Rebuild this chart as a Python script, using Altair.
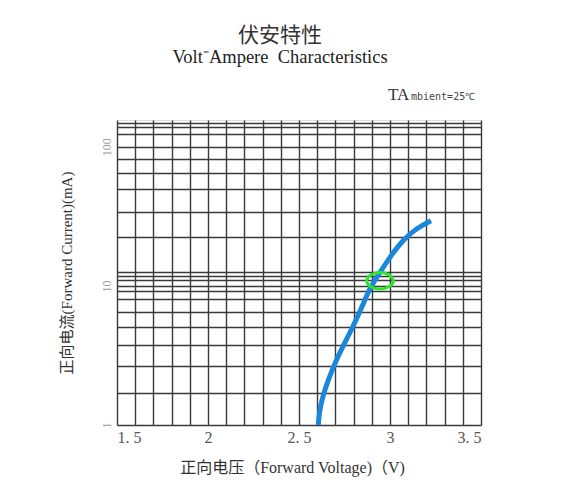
import altair as alt
import pandas as pd

# Forward voltage (V) and forward current (mA)
voltage = [2.606, 2.612, 2.630, 2.660, 2.703, 2.747, 2.797, 2.846, 2.890, 2.929, 3.000, 3.071, 3.148, 3.225]
current = [1.0, 1.25, 1.60, 2.10, 2.90, 3.80, 5.10, 7.06, 9.68, 11.6, 16.2, 21.4, 26.1, 29.4]

# highlighted operating point (green hand-drawn mark)
mark_v = [2.945]
mark_i = [10.9]

x_ticks = [1.5, 1.6, 1.7, 1.8, 1.9, 2.0, 2.1, 2.2, 2.3, 2.4, 2.5, 2.6, 2.7, 2.8, 2.9,
           3.0, 3.1, 3.2, 3.3, 3.4, 3.5]
x_labels = [1.5, 2.0, 2.5, 3.0, 3.5]
# grid lines of the (hand-ruled) log paper in the reference
y_ticks = [1, 1.7, 2.66, 3.73, 5.07, 6.5, 8.06, 9.2, 10, 11.05, 11.8, 12.6,
           22.5, 34.1, 49.9, 65, 82, 100, 124, 139, 149]
y_labels = [1, 10, 100]

curve = pd.DataFrame({"v": voltage, "i": current})
hl = pd.DataFrame({"v": mark_v, "i": mark_i})

x_scale = alt.Scale(domain=[1.5, 3.5], nice=False, zero=False)
y_scale = alt.Scale(type="log", domain=[1, 156], nice=False)

x_label_expr = (
    "indexof(%s, round(datum.value*10)) >= 0 ? "
    "(abs(datum.value - round(datum.value)) < 0.001 ? format(datum.value, 'd') : "
    "replace(format(datum.value, '.1f'), '.', '. ')) : ''"
) % str([int(round(v * 10)) for v in x_labels])

y_label_expr = "indexof(%s, datum.value) >= 0 ? format(datum.value, 'd') : ''" % str(y_labels)

x_axis = alt.Axis(
    values=x_ticks,
    tickCount=200,
    title="正向电压（Forward Voltage)（V)",
    titleFont="Liberation Serif, Noto Sans CJK SC",
    titleFontSize=16,
    titleFontWeight="normal",
    titleColor="#333333",
    titleX=175,
    titleY=34,
    titleAlign="center",
    labelExpr=x_label_expr,
    labelOverlap=False,
    labelFont="Liberation Serif",
    labelFontSize=16,
    labelColor="#555555",
    labelPadding=4,
    ticks=False,
    domain=False,
    grid=True,
    gridColor="#3a3a3a",
    gridWidth=1.4,
    gridOpacity=1,
)

y_axis = alt.Axis(
    values=y_ticks,
    tickCount=200,
    title="正向电流(Forward  Current)(mA)",
    titleFont="Liberation Serif, Noto Sans CJK SC",
    titleFontSize=15,
    titleFontWeight="normal",
    titleColor="#333333",
    titlePadding=26,
    labelExpr=y_label_expr,
    labelOverlap=False,
    labelFont="Liberation Serif",
    labelFontSize=12,
    labelColor="#9a9a9a",
    labelAngle=270,
    labelAlign="center",
    labelBaseline="bottom",
    labelPadding=4,
    ticks=False,
    domain=False,
    grid=True,
    gridColor="#3a3a3a",
    gridWidth=1.4,
    gridOpacity=1,
)

line = alt.Chart(curve).mark_line(
    color="#1a87dc", strokeWidth=5, interpolate="basis", strokeCap="butt"
).encode(
    x=alt.X("v:Q", scale=x_scale, axis=x_axis),
    y=alt.Y("i:Q", scale=y_scale, axis=y_axis),
)

ellipse = alt.Chart(hl).mark_point(
    shape="M -1 0 A 1 0.62 0 1 0 1 0 A 1 0.62 0 1 0 -1 0 Z",
    filled=False, stroke="#2ee62e", strokeWidth=3, size=700, opacity=1,
).encode(
    x=alt.X("v:Q", scale=x_scale, axis=x_axis),
    y=alt.Y("i:Q", scale=y_scale, axis=y_axis),
)

ta = alt.Chart(pd.DataFrame({"t": ["TA"]})).mark_text(
    font="Liberation Serif", fontSize=17, color="#333333", align="left", baseline="alphabetic"
).encode(x=alt.value(271), y=alt.value(-20), text="t:N")

amb = alt.Chart(pd.DataFrame({"t": ["mbient=25℃"]})).mark_text(
    font="DejaVu Sans Mono", fontSize=10, color="#444444", align="left", baseline="alphabetic"
).encode(x=alt.value(294), y=alt.value(-20), text="t:N")

chart = alt.layer(line, ellipse, ta, amb).properties(
    width=364,
    height=305,
    autosize=alt.AutoSizeParams(type="none"),
    padding={"left": 109, "top": 112, "right": 91, "bottom": 70},
    title=alt.TitleParams(
        text="伏安特性",
        subtitle="Volt⁻Ampere\u00a0\u00a0Characteristics",
        font="Noto Sans CJK SC",
        fontSize=21,
        fontWeight="normal",
        color="#333333",
        subtitleFont="Liberation Serif",
        subtitleFontSize=18.5,
        subtitleColor="#222222",
        subtitlePadding=2,
        anchor="middle",
        dx=-19,
        offset=20,
    ),
).configure_view(
    stroke="#333333", strokeWidth=1.6, fill="white"
).configure(background="white")

chart.save("out.html", embed_options={"renderer": "svg", "actions": False})
